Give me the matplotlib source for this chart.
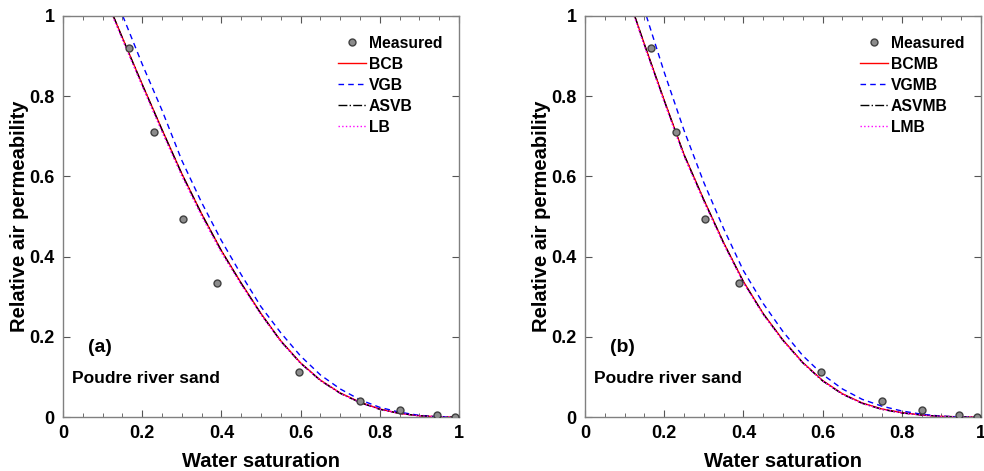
import numpy as np
import matplotlib
matplotlib.use('Agg')
import matplotlib.pyplot as plt
from matplotlib.ticker import MultipleLocator

plt.rcParams['font.family'] = ['Liberation Sans', 'DejaVu Sans']
plt.rcParams['font.weight'] = 'bold'

# measured points (same in both panels)
sw_meas = [0.166, 0.231, 0.302, 0.389, 0.597, 0.751, 0.850, 0.945, 0.991]
kra_meas = [0.921, 0.710, 0.494, 0.335, 0.112, 0.039, 0.017, 0.004, 0.0]

# panel (a) model curves
sw_a_bc = [0.127, 0.15, 0.2, 0.25, 0.3, 0.35, 0.4, 0.45, 0.5, 0.55, 0.6, 0.65, 0.7, 0.75, 0.8, 0.85, 0.9, 0.95, 1.0]
kra_a_bc = [1.0, 0.946, 0.83, 0.717, 0.607, 0.507, 0.415, 0.334, 0.258, 0.19, 0.135, 0.092, 0.060, 0.037, 0.020, 0.009, 0.003, 0.0005, 0.0]
sw_a_vg = [0.151, 0.2, 0.25, 0.3, 0.35, 0.4, 0.45, 0.5, 0.55, 0.6, 0.65, 0.7, 0.75, 0.8, 0.85, 0.9, 0.95, 1.0]
kra_a_vg = [1.0, 0.88, 0.765, 0.64, 0.535, 0.44, 0.355, 0.275, 0.21, 0.152, 0.105, 0.070, 0.043, 0.024, 0.012, 0.004, 0.001, 0.0]
sw_a_asv = [0.127, 0.15, 0.2, 0.25, 0.3, 0.35, 0.4, 0.45, 0.5, 0.55, 0.6, 0.65, 0.7, 0.75, 0.8, 0.85, 0.9, 0.95, 1.0]
kra_a_asv = [1.0, 0.945, 0.829, 0.716, 0.606, 0.506, 0.414, 0.333, 0.257, 0.189, 0.134, 0.091, 0.059, 0.036, 0.019, 0.009, 0.003, 0.0005, 0.0]
sw_a_l = [0.125, 0.15, 0.2, 0.25, 0.3, 0.35, 0.4, 0.45, 0.5, 0.55, 0.6, 0.65, 0.7, 0.75, 0.8, 0.85, 0.9, 0.95, 1.0]
kra_a_l = [1.0, 0.941, 0.825, 0.711, 0.601, 0.501, 0.41, 0.33, 0.255, 0.188, 0.134, 0.091, 0.059, 0.036, 0.019, 0.009, 0.003, 0.0005, 0.0]

# panel (b) model curves
sw_b_bc = [0.1255, 0.15, 0.2, 0.25, 0.3, 0.35, 0.4, 0.45, 0.5, 0.55, 0.6, 0.65, 0.7, 0.75, 0.8, 0.85, 0.9, 0.95, 1.0]
kra_b_bc = [1.0, 0.93, 0.79, 0.655, 0.542, 0.435, 0.338, 0.258, 0.192, 0.136, 0.091, 0.058, 0.035, 0.020, 0.011, 0.005, 0.0015, 0.0003, 0.0]
sw_b_vg = [0.155, 0.2, 0.25, 0.3, 0.35, 0.4, 0.45, 0.5, 0.55, 0.6, 0.65, 0.7, 0.75, 0.8, 0.85, 0.9, 0.95, 1.0]
kra_b_vg = [1.0, 0.86, 0.715, 0.585, 0.47, 0.365, 0.283, 0.213, 0.153, 0.106, 0.070, 0.044, 0.027, 0.015, 0.007, 0.002, 0.0004, 0.0]
sw_b_asv = [0.1255, 0.15, 0.2, 0.25, 0.3, 0.35, 0.4, 0.45, 0.5, 0.55, 0.6, 0.65, 0.7, 0.75, 0.8, 0.85, 0.9, 0.95, 1.0]
kra_b_asv = [1.0, 0.929, 0.789, 0.654, 0.541, 0.434, 0.337, 0.257, 0.191, 0.135, 0.090, 0.057, 0.034, 0.019, 0.010, 0.005, 0.0015, 0.0003, 0.0]
sw_b_l = [0.124, 0.15, 0.2, 0.25, 0.3, 0.35, 0.4, 0.45, 0.5, 0.55, 0.6, 0.65, 0.7, 0.75, 0.8, 0.85, 0.9, 0.95, 1.0]
kra_b_l = [1.0, 0.925, 0.785, 0.65, 0.537, 0.431, 0.335, 0.255, 0.19, 0.135, 0.090, 0.057, 0.034, 0.019, 0.010, 0.005, 0.0015, 0.0003, 0.0]

ticks = [0, 0.2, 0.4, 0.6, 0.8, 1.0]
tick_labels = ['0', '0.2', '0.4', '0.6', '0.8', '1']

panels = [
    ('(a)', ['BCB', 'VGB', 'ASVB', 'LB'],
     (sw_a_bc, kra_a_bc), (sw_a_vg, kra_a_vg), (sw_a_asv, kra_a_asv), (sw_a_l, kra_a_l)),
    ('(b)', ['BCMB', 'VGMB', 'ASVMB', 'LMB'],
     (sw_b_bc, kra_b_bc), (sw_b_vg, kra_b_vg), (sw_b_asv, kra_b_asv), (sw_b_l, kra_b_l)),
]

fig = plt.figure(figsize=(9.84, 4.71), dpi=100)
lefts = [63 / 984, 585 / 984]

for i, (tag, names, bc, vg, asv, lm) in enumerate(panels):
    ax = fig.add_axes([lefts[i], 54 / 471, 396 / 984, 401 / 471])
    ax.plot(sw_meas, kra_meas, 'o', ms=5, mfc='#8c8c8c', mec='#404040', mew=1.0,
            label='Measured', zorder=5)
    ax.plot(bc[0], bc[1], '-', color='red', lw=1.0, label=names[0])
    ax.plot(vg[0], vg[1], '--', color='blue', lw=1.0, dashes=(4, 3), label=names[1])
    ax.plot(asv[0], asv[1], '-.', color='black', lw=1.0, label=names[2])
    ax.plot(lm[0], lm[1], ':', color='magenta', lw=1.0, label=names[3])

    ax.set_xlim(0, 1)
    ax.set_ylim(0, 1)
    ax.set_xticks(ticks)
    ax.set_xticklabels(tick_labels)
    ax.set_yticks(ticks)
    ax.set_yticklabels(tick_labels)
    ax.xaxis.set_minor_locator(MultipleLocator(0.05))
    ax.tick_params(which='both', direction='in', top=True, right=True,
                   color='#555555', labelsize=13, pad=6)
    ax.tick_params(which='major', length=5)
    ax.tick_params(which='minor', length=3)
    for sp in ax.spines.values():
        sp.set_color('#808080')
        sp.set_linewidth(1.0)

    ax.set_xlabel('Water saturation', fontsize=14.5, fontweight='bold', labelpad=7)
    ax.set_ylabel('Relative air permeability', fontsize=14.5, fontweight='bold', labelpad=0)

    ax.text(0.063, 0.174, tag, fontsize=14, fontweight='bold', va='center', ha='left')
    ax.text(0.022, 0.097, 'Poudre river sand', fontsize=12.5, fontweight='bold', va='center', ha='left')

    leg = ax.legend(loc='upper right', bbox_to_anchor=(0.985, 0.978), frameon=False,
                    fontsize=11.3, handlelength=1.8, handletextpad=0.15,
                    labelspacing=0.38, borderaxespad=0.3)

fig.savefig('out.png', dpi=100)
